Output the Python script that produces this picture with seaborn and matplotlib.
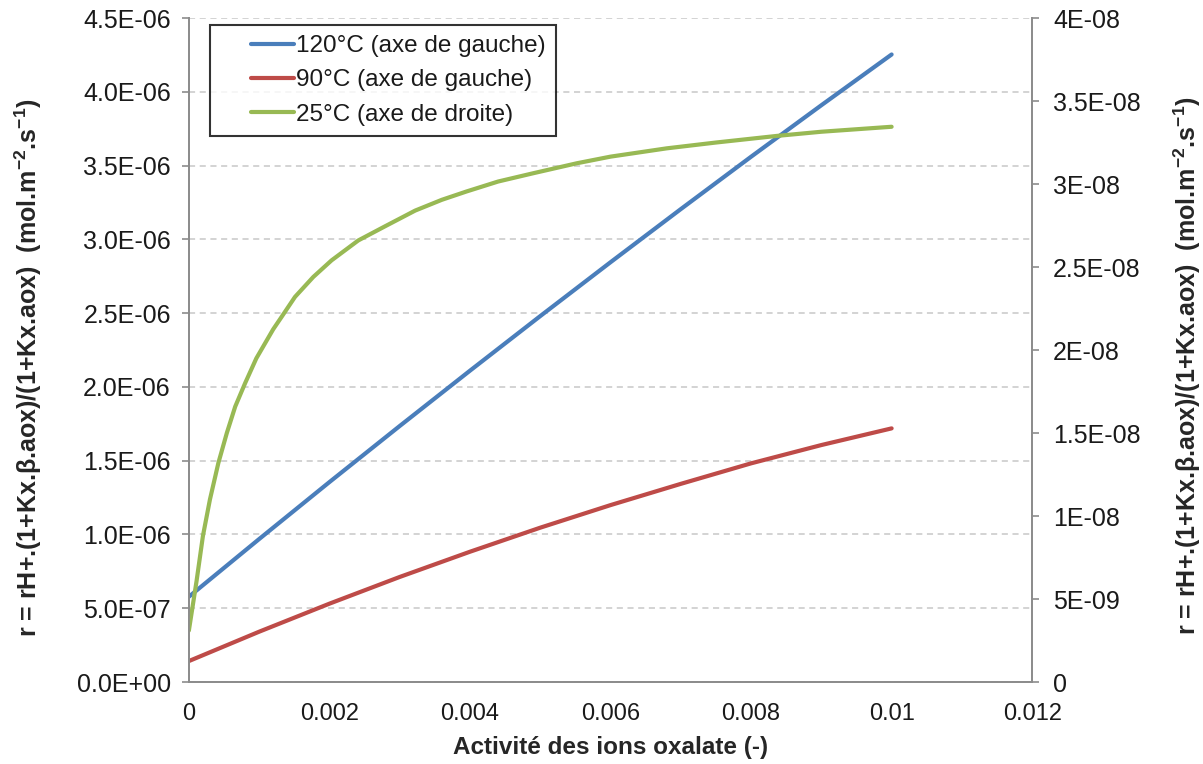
import pandas as pd
import seaborn as sns
from matplotlib import pyplot as plt
from matplotlib.legend_handler import HandlerLine2D

# activity of oxalate ions (left axis series)
x_hot = [0, 0.001, 0.002, 0.003, 0.004, 0.005, 0.006, 0.007, 0.008, 0.009, 0.01]
r_120 = [0.578e-6, 0.969e-6, 1.355e-6, 1.735e-6, 2.110e-6, 2.480e-6,
         2.845e-6, 3.205e-6, 3.560e-6, 3.909e-6, 4.253e-6]
r_90 = [0.142e-6, 0.341e-6, 0.531e-6, 0.712e-6, 0.883e-6, 1.046e-6,
        1.199e-6, 1.343e-6, 1.482e-6, 1.606e-6, 1.719e-6]

# 25 degC series (right axis)
x_25 = [0, 0.00011, 0.0002, 0.0003, 0.00042, 0.00054, 0.00066, 0.0008, 0.00096,
        0.0012, 0.00132, 0.00151, 0.00177, 0.00203, 0.00241, 0.00279, 0.00322,
        0.0036, 0.00395, 0.0044, 0.0049, 0.00552, 0.006, 0.0068, 0.0075, 0.00837,
        0.009, 0.01]
r_25 = [3.1e-9, 6.1e-9, 8.8e-9, 11.0e-9, 13.2e-9, 15.0e-9, 16.6e-9, 18.0e-9, 19.5e-9,
        21.25e-9, 22.0e-9, 23.2e-9, 24.4e-9, 25.4e-9, 26.6e-9, 27.45e-9, 28.4e-9,
        29.05e-9, 29.55e-9, 30.15e-9, 30.65e-9, 31.25e-9, 31.65e-9, 32.15e-9,
        32.5e-9, 32.9e-9, 33.15e-9, 33.45e-9]

labels = ['120°C (axe de gauche)', '90°C (axe de gauche)', '25°C (axe de droite)']
left_ticks = [0, 0.5e-6, 1.0e-6, 1.5e-6, 2.0e-6, 2.5e-6, 3.0e-6, 3.5e-6, 4.0e-6, 4.5e-6]
right_ticks = [0, 5e-9, 1e-8, 1.5e-8, 2e-8, 2.5e-8, 3e-8, 3.5e-8, 4e-8]
right_labels = ['0', '5E-09', '1E-08', '1.5E-08', '2E-08', '2.5E-08', '3E-08', '3.5E-08', '4E-08']
x_ticks = [0, 0.002, 0.004, 0.006, 0.008, 0.01, 0.012]


class InsetLineHandler(HandlerLine2D):
    # Excel style legend key: short line drawn on the right part of the key area
    def create_artists(self, legend, orig_handle, xdescent, ydescent, width, height, fontsize, trans):
        blank = width * 0.42
        return super().create_artists(legend, orig_handle, xdescent - blank, ydescent,
                                      width - blank, height, fontsize, trans)


sns.set_style('white')
plt.rcParams['font.family'] = ['Liberation Sans', 'DejaVu Sans']
plt.rcParams['mathtext.fontset'] = 'custom'
plt.rcParams['mathtext.bf'] = 'Liberation Sans:bold'
plt.rcParams['mathtext.rm'] = 'Liberation Sans'

c_blue, c_red, c_green = '#4A7EBB', '#BE4B48', '#98B954'
grey = '#8C8C8C'
tick_color = '#1A1A1A'

df_hot = pd.DataFrame({'x': x_hot, 'r120': r_120, 'r90': r_90})
df_25 = pd.DataFrame({'x': x_25, 'r25': r_25})

fig = plt.figure(figsize=(12.03, 7.64), dpi=100)
ax = fig.add_axes([0.157, 0.1073, 0.701, 0.8691])
ax2 = ax.twinx()

line_kw = dict(lw=3, legend=False, solid_joinstyle='round', solid_capstyle='round')
sns.lineplot(data=df_hot, x='x', y='r120', ax=ax, color=c_blue, **line_kw)
sns.lineplot(data=df_hot, x='x', y='r90', ax=ax, color=c_red, **line_kw)
sns.lineplot(data=df_25, x='x', y='r25', ax=ax2, color=c_green, **line_kw)

ax.set_xlim(0, 0.012)
ax.set_ylim(0, 4.5e-6)
ax2.set_ylim(0, 4e-8)

ax.set_xticks(x_ticks)
ax.set_xticklabels(['{:g}'.format(v) for v in x_ticks], fontsize=17, color=tick_color)
ax.set_yticks(left_ticks)
ax.set_yticklabels(['{:.1E}'.format(v) for v in left_ticks], fontsize=18, color=tick_color)
ax2.set_yticks(right_ticks)
ax2.set_yticklabels(right_labels, fontsize=18, color=tick_color)

ax.yaxis.grid(True, linestyle=(0, (4, 3)), color='#C8C8C8', lw=1.1)
ax.set_axisbelow(True)

for a in (ax, ax2):
    for side in ('left', 'right', 'bottom'):
        a.spines[side].set_color(grey)
        a.spines[side].set_linewidth(1.3)
    a.spines['top'].set_visible(False)
    a.tick_params(length=5, width=1.2, color=grey, direction='out')
ax.tick_params(axis='y', pad=8)
ax2.tick_params(axis='y', pad=10)
ax.tick_params(axis='x', pad=10)

ylab = r'r = rH+.(1+Kx.β.aox)/(1+Kx.aox)  (mol.m$\mathbf{^{-2}}$.s$\mathbf{^{-1}}$)'
ax.set_ylabel(ylab, fontsize=18, fontweight='bold')
ax2.set_ylabel(ylab, fontsize=18, fontweight='bold')
ax.yaxis.set_label_coords(-0.172, 0.474)
ax2.yaxis.set_label_coords(1.165, 0.476)
ax.set_xlabel('Activité des ions oxalate (-)', fontsize=17.5,
              fontweight='bold', labelpad=8)

handles = ax.get_lines() + ax2.get_lines()
leg = ax.legend(handles, labels, loc='upper left', bbox_to_anchor=(0.025, 0.9895),
                fontsize=17.5, frameon=True, fancybox=False, edgecolor='black',
                handlelength=3.05, borderpad=0.42, labelspacing=0.5, handletextpad=0.08,
                borderaxespad=0, handler_map={h: InsetLineHandler() for h in handles})
leg.get_frame().set_linewidth(1.5)
for t in leg.get_texts():
    t.set_color(tick_color)

fig.savefig('out.png', dpi=100)
plt.close(fig)
